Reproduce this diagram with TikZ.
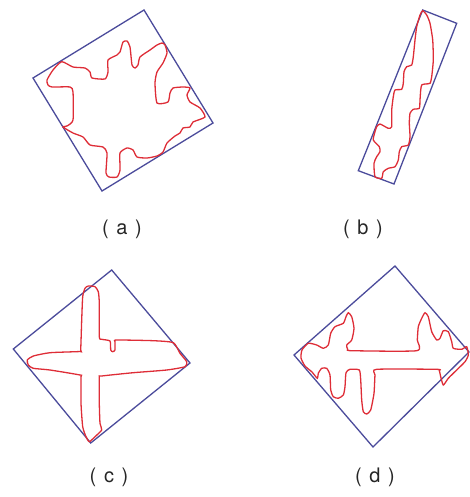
\documentclass[tikz,border=0pt]{standalone}
\usepackage{fontspec}
\setmainfont{TeX Gyre Heros}
\definecolor{boxblue}{RGB}{75,75,155}
\definecolor{cred}{RGB}{222,45,55}
\begin{document}
\begin{tikzpicture}[x=1pt,y=-1pt,
  frame/.style={draw=boxblue,line width=1.3pt,line join=miter},
  contour/.style={draw=cred,line width=1.3pt,smooth cycle,tension=0.35},
  caption/.style={font=\fontsize{20}{23}\selectfont,inner sep=0pt,text=black!85}]
\useasboundingbox (0,0) rectangle (470,497);
% ---------- (a)
\draw[frame] (144,10) -- (213,123) -- (102,191) -- (33,78) -- cycle;
\draw[contour] plot coordinates {
 (61.7,61.7) (73,67) (85,68) (90,72) (92,78) (105,79) (108,72) (108,60)
 (117,55) (120,52) (123,42) (127,41) (130,47) (132,65) (135,68) (138,65)
 (140,57) (150,50) (157,45) (162,43) (165,45) (167,53) (163,63) (157,72)
 (155,83) (157,103) (168,102) (170,93) (173,88) (183,87) (190,88) (187,95)
 (190,102) (200,108) (205,117) (193,122) (190,127) (183,128) (180,133)
 (175,136) (167,143) (163,152) (157,156) (147,158) (137,157) (133,150)
 (127,148) (120,153) (120,170) (117,177) (109,177) (106,173) (107,153)
 (103,147) (90,145) (83,137) (73,133) (63,127) (67,126) (73,120) (73,92)
 (70,87) (52,87) (48,85) (47,80) (53,70)};
\node[caption] (la) at (122,229) {(\hspace{0.38em}a\hspace{0.38em})};
% ---------- (b)
\draw[frame] (422.7,10) -- (456.7,23.3) -- (394,184) -- (358.3,170.7) -- cycle;
\draw[contour] plot coordinates {
 (422.7,10.7) (426.7,15) (430,23.3) (432.7,40) (433.3,60) (431.7,76.7)
 (430,83.3) (425,84) (421.7,85) (420.7,90) (420,100) (419.3,108.3)
 (413.3,109.3) (410,113.3) (409.3,123.3) (410,136.7) (408.3,145)
 (401.7,146.7) (399.3,151.7) (398.3,160) (395,166.7) (388.3,168.3)
 (383.3,171.7) (381.7,178.3) (375,176.7) (374,163.3) (376.7,156.7)
 (380,151.7) (379.3,146.7) (373.3,140) (375,131.7) (376.7,126.7) (380,124)
 (388.3,128.3) (391.7,126.7) (391.7,110) (393.3,96.7) (395,90) (401.7,89.3)
 (403.3,83.3) (404,71.7) (406.7,66.7) (411.7,65) (413.3,56.7) (415,40)
 (416.7,26.7) (420,15)};
\node[caption] (lb) at (363,229) {(\hspace{0.38em}b\hspace{0.38em})};
% ---------- (c)
\draw[frame] (111.7,270) -- (190,363) -- (90.7,443) -- (13.3,349) -- cycle;
\draw[contour] plot coordinates {
 (88.3,286) (85,288.3) (82.7,296.7) (81.7,320) (80.7,350) (80,351.5)
 (50,352.7) (33.3,356) (27.3,360) (28.3,365) (33.3,368.3) (50,370) (80,375)
 (80.9,377) (81,403.3) (82.7,426.7) (86,436.7) (89.3,441.7) (95,436.7)
 (101.7,430) (100,423.3) (99.3,403.3) (99.3,377.5) (101.7,376) (133.3,372.7)
 (166.7,370) (185,366.7) (186.7,361.7) (180,353.3) (173.3,342.7)
 (153.3,340.7) (116.7,340) (115,341.7) (115,350) (112.7,351.7) (110.7,350)
 (110,341) (101.7,339.3) (99.3,336.7) (99.3,303.3) (98.3,291.7) (95,286.7)};
\node[caption] (lc) at (109,477) {(\hspace{0.38em}c\hspace{0.38em})};
% ---------- (d)
\draw[frame] (395,266) -- (469,352) -- (373,447) -- (294,355) -- cycle;
\draw[contour] plot coordinates {
 (308.3,343.3) (316.7,345) (323.3,348.3) (328.3,345) (330.7,333.3)
 (335,326.7) (343.3,323.3) (346,316.7) (348.3,312.7) (351.7,316.7)
 (354,328.3) (351.7,340) (346.7,345) (347.7,349.3) (351.7,350.7)
 (416.7,350.7) (417.3,340) (418.3,326.7) (421.7,318.3) (425,312.7)
 (428.3,316.7) (431.7,331.7) (436.7,340) (440,338.3) (443.3,330.7)
 (448.3,331.7) (451.7,341.7) (453.3,348.3) (461.7,349.3) (466.7,346.7)
 (468.3,355) (465,361.7) (456.7,370) (448.3,378.3) (443.3,385)
 (440.7,376.7) (439.3,370.7) (436.7,369.3) (376.7,369.3) (375,375)
 (374,393.3) (370.7,410) (366.7,414) (363.3,411.7) (361.7,400)
 (360.7,380) (359.3,370) (350,369.3) (346,372.7) (345,386.7) (343.3,395)
 (338.3,398.3) (333.3,396.7) (330.7,390) (330,375) (326.7,368.3)
 (321.7,368.3) (318.3,373.3) (317.3,378.3) (312,372) (305,366) (301,358)
 (302,350)};
\node[caption] (ld) at (375,477) {(\hspace{0.38em}d\hspace{0.38em})};
\end{tikzpicture}
\end{document}
